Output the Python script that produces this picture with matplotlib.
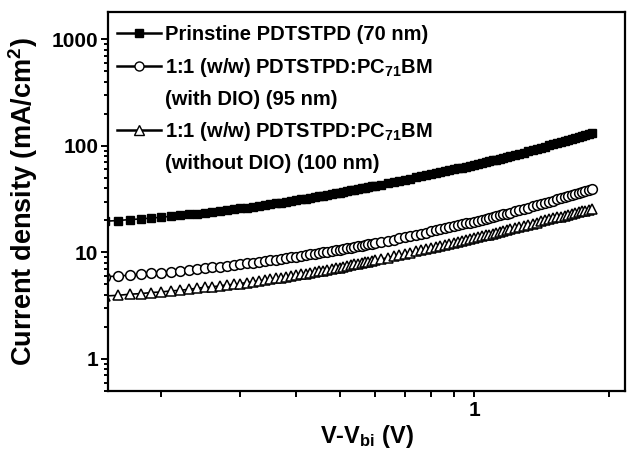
# -*- coding: utf-8 -*-
""" J-V curves (log-log) of pristine PDTSTPD and PDTSTPD:PC71BM blends.
    Values read off the published figure.
"""
import matplotlib
matplotlib.use("Agg")
import matplotlib.pyplot as plt
from matplotlib import ticker
from matplotlib.lines import Line2D

plt.rcParams['font.family'] = ['Liberation Sans', 'DejaVu Sans']
plt.rcParams['mathtext.fontset'] = 'custom'
plt.rcParams['mathtext.rm'] = 'Liberation Sans'
plt.rcParams['mathtext.bf'] = 'Liberation Sans:bold'
plt.rcParams['mathtext.default'] = 'bf'

# V - Vbi (V)
v_bias = [0.15, 0.16, 0.17, 0.18, 0.19, 0.20, 0.21, 0.22, 0.23, 0.24,
          0.25, 0.26, 0.27, 0.28, 0.29, 0.30, 0.31, 0.32, 0.33, 0.34,
          0.35, 0.36, 0.37, 0.38, 0.39, 0.40, 0.41, 0.42, 0.43, 0.44,
          0.45, 0.46, 0.47, 0.48, 0.49, 0.50, 0.51, 0.52, 0.53, 0.54,
          0.55, 0.56, 0.57, 0.58, 0.59, 0.60,
          0.62, 0.64, 0.66, 0.68, 0.70, 0.72, 0.74, 0.76, 0.78, 0.80,
          0.82, 0.84, 0.86, 0.88, 0.90, 0.92, 0.94, 0.96, 0.98, 1.00,
          1.02, 1.04, 1.06, 1.08, 1.10, 1.12, 1.14, 1.16, 1.18, 1.20,
          1.23, 1.26, 1.29, 1.32, 1.35, 1.38, 1.41, 1.44, 1.47, 1.50,
          1.53, 1.56, 1.59, 1.62, 1.65, 1.68, 1.71, 1.74, 1.77, 1.80,
          1.83]

# current density (mA/cm2)
j_pristine = [19.6, 19.9, 20.3, 20.6, 21.0, 21.35, 21.8, 22.25, 22.7, 23.15,
              23.6, 24.05, 24.5, 24.95, 25.4, 25.85, 26.35, 26.85, 27.35, 27.85,
              28.35, 28.85, 29.35, 29.85, 30.35, 30.85, 31.4, 31.95, 32.5, 33.05,
              33.6, 34.15, 34.7, 35.25, 35.8, 36.35, 36.9, 37.5, 38.1, 38.65,
              39.2, 39.8, 40.35, 40.9, 41.5, 42.05,
              43.25, 44.45, 45.65, 46.85, 48.05, 49.25, 50.45, 51.7, 52.9, 54.1,
              55.3, 56.5, 57.65, 58.8, 60.0, 61.25, 62.5, 63.7, 64.95, 66.2,
              67.5, 68.8, 70.15, 71.45, 72.8, 74.2, 75.6, 77.0, 78.4, 79.8,
              82.0, 84.25, 86.45, 88.75, 91.1, 93.45, 95.8, 98.3, 100.75, 103.2,
              105.75, 108.3, 110.85, 113.45, 116.1, 118.75, 121.4, 124.1, 126.8, 129.5,
              132.2]

j_with_dio = [5.9, 6.0, 6.1, 6.25, 6.35, 6.45, 6.6, 6.7, 6.85, 7.0,
              7.1, 7.25, 7.35, 7.5, 7.6, 7.75, 7.9, 8.0, 8.15, 8.3,
              8.45, 8.55, 8.7, 8.85, 8.95, 9.1, 9.25, 9.4, 9.55, 9.7,
              9.85, 10.0, 10.15, 10.3, 10.45, 10.6, 10.75, 10.9, 11.1, 11.25,
              11.4, 11.55, 11.7, 11.9, 12.05, 12.2,
              12.55, 12.9, 13.2, 13.55, 13.9, 14.25, 14.6, 15.0, 15.35, 15.7,
              16.05, 16.45, 16.8, 17.2, 17.55, 17.95, 18.3, 18.7, 19.05, 19.45,
              19.85, 20.25, 20.65, 21.05, 21.45, 21.85, 22.3, 22.7, 23.15, 23.55,
              24.2, 24.85, 25.55, 26.2, 26.95, 27.65, 28.35, 29.1, 29.85, 30.6,
              31.4, 32.15, 32.95, 33.75, 34.55, 35.35, 36.2, 37.0, 37.85, 38.7,
              39.55]

j_without_dio = [3.9, 3.95, 4.05, 4.1, 4.2, 4.25, 4.35, 4.4, 4.5, 4.6,
                 4.7, 4.75, 4.85, 4.95, 5.0, 5.1, 5.2, 5.3, 5.4, 5.5,
                 5.6, 5.7, 5.8, 5.9, 6.0, 6.1, 6.2, 6.3, 6.45, 6.55,
                 6.65, 6.75, 6.85, 6.95, 7.1, 7.2, 7.3, 7.45, 7.55, 7.7,
                 7.8, 7.9, 8.05, 8.15, 8.3, 8.4,
                 8.65, 8.9, 9.15, 9.4, 9.65, 9.9, 10.2, 10.45, 10.7, 10.95,
                 11.2, 11.5, 11.75, 12.0, 12.25, 12.5, 12.8, 13.05, 13.35, 13.6,
                 13.9, 14.15, 14.45, 14.7, 15.0, 15.3, 15.6, 15.85, 16.15, 16.45,
                 16.9, 17.3, 17.75, 18.2, 18.6, 19.05, 19.5, 19.95, 20.35, 20.8,
                 21.25, 21.65, 22.1, 22.55, 23.0, 23.4, 23.85, 24.3, 24.7, 25.15,
                 25.6]

labels = ["Prinstine PDTSTPD (70 nm)",
          "1:1 (w/w) PDTSTPD:PC$_{71}$BM",
          "(with DIO) (95 nm)",
          "1:1 (w/w) PDTSTPD:PC$_{71}$BM",
          "(without DIO) (100 nm)"]

fig = plt.figure(figsize=(6.27, 4.5), dpi=100)
ax = fig.add_axes([0.1722, 0.1311, 0.8246, 0.8422])

ax.plot(v_bias, j_pristine, color='black', lw=1.2, marker='s', ms=6,
        mfc='black', mec='black')
ax.plot(v_bias, j_with_dio, color='black', lw=1.2, marker='o', ms=7,
        mfc='white', mec='black', mew=1.1)
ax.plot(v_bias, j_without_dio, color='black', lw=1.2, marker='^', ms=7,
        mfc='white', mec='black', mew=1.1)

ax.set_xscale('log')
ax.set_yscale('log')
ax.set_xlim(0.152, 2.17)
ax.set_ylim(0.5, 1800)

fmt = ticker.FuncFormatter(lambda v, p: '%g' % v)
ax.xaxis.set_major_formatter(fmt)
ax.yaxis.set_major_formatter(fmt)
ax.xaxis.set_minor_formatter(ticker.NullFormatter())
ax.yaxis.set_minor_formatter(ticker.NullFormatter())

for s in ax.spines.values():
    s.set_linewidth(1.6)
ax.tick_params(which='both', direction='out', top=False, right=False,
               width=1.4)
ax.tick_params(axis='y', which='major', length=5, pad=2)
ax.tick_params(axis='y', which='minor', length=3)
ax.tick_params(axis='x', which='both', length=4, pad=3)
for t in ax.get_xticklabels() + ax.get_yticklabels():
    t.set_fontsize(15)
    t.set_fontweight('bold')

ax.set_xlabel('V-V$_{bi}$ (V)', fontsize=17, fontweight='bold')
ax.set_ylabel('Current density (mA/cm$^2$)', fontsize=19.5, fontweight='bold')
ax.xaxis.set_label_coords(0.5, -0.085)
ax.yaxis.set_label_coords(-0.132, 0.5)

# legend: blank handles carry the second line of the blend labels
blank = Line2D([], [], linestyle='none')
handles = [Line2D([], [], color='black', lw=1.8, marker='s', ms=6,
                  mfc='black', mec='black'),
           Line2D([], [], color='black', lw=1.8, marker='o', ms=6.5,
                  mfc='white', mec='black'),
           blank,
           Line2D([], [], color='black', lw=1.8, marker='^', ms=6.5,
                  mfc='white', mec='black'),
           blank]
leg = ax.legend(handles, labels, loc='upper left',
                bbox_to_anchor=(0.017, 0.965), frameon=False, numpoints=1,
                prop={'weight': 'bold', 'size': 14.5}, borderpad=0,
                borderaxespad=0, handlelength=2.2, handletextpad=0.2,
                labelspacing=0.56)

fig.savefig('out.png', dpi=100)
